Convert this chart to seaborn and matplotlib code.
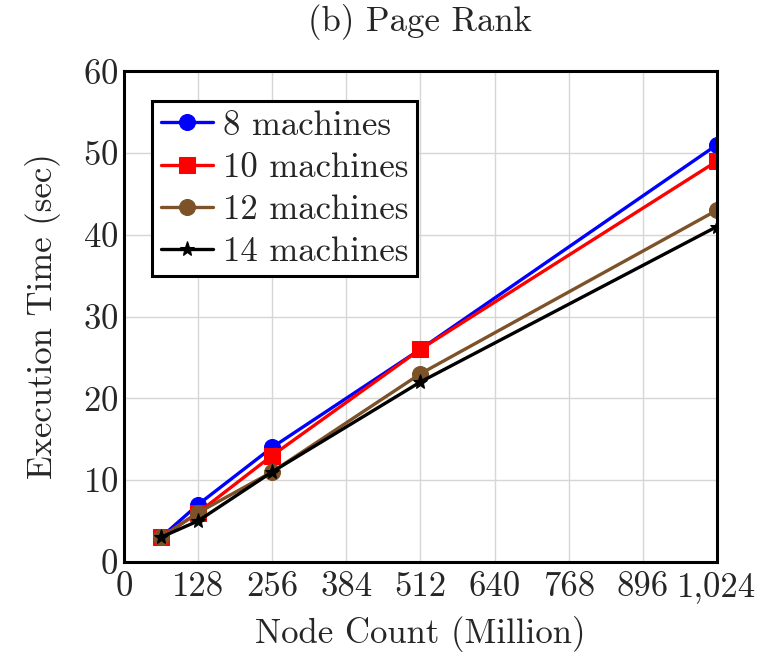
import pandas as pd
import matplotlib.pyplot as plt
import seaborn as sns

node_count = [64, 128, 256, 512, 1024]
machines = ['8 machines', '10 machines', '12 machines', '14 machines']
time_8 = [3, 7, 14, 26, 51]
time_10 = [3, 6, 13, 26, 49]
time_12 = [3, 6, 11, 23, 43]
time_14 = [3, 5, 11, 22, 41]

x_ticks = [0, 128, 256, 384, 512, 640, 768, 896, 1024]
x_tick_labels = ['0', '128', '256', '384', '512', '640', '768', '896', '1,024']
y_ticks = [0, 10, 20, 30, 40, 50, 60]


def montar_dados():
    series = [time_8, time_10, time_12, time_14]
    linhas = []
    for nome, valores in zip(machines, series):
        for x, y in zip(node_count, valores):
            linhas.append({'Nodes': x, 'Time': y, 'Machines': nome})
    return pd.DataFrame(linhas)


def plot_page_rank(df):
    sns.set_style('whitegrid')
    plt.rcParams['font.family'] = 'serif'
    plt.rcParams['font.serif'] = ['cmr10', 'DejaVu Serif']
    plt.rcParams['mathtext.fontset'] = 'cm'
    plt.rcParams['axes.formatter.use_mathtext'] = True

    fs = 25

    fig = plt.figure(figsize=(7.7, 6.54), dpi=100)
    ax = fig.add_axes([0.161, 0.141, 0.770, 0.750])

    cores = {'8 machines': '#0000ff', '10 machines': '#ff0000',
             '12 machines': '#7d5228', '14 machines': '#000000'}
    marcadores = {'8 machines': 'o', '10 machines': 's',
                  '12 machines': 'o', '14 machines': '*'}
    tamanhos = {'8 machines': 11.5, '10 machines': 11,
                '12 machines': 11.5, '14 machines': 11}

    for nome in machines:
        sub = df[df['Machines'] == nome]
        sns.lineplot(data=sub, x='Nodes', y='Time', ax=ax, color=cores[nome],
                     marker=marcadores[nome], markersize=tamanhos[nome],
                     markeredgecolor=cores[nome], linewidth=2.4, label=nome)

    ax.set_xlim(0, 1024)
    ax.set_ylim(0, 60)
    ax.set_xticks(x_ticks)
    ax.set_xticklabels(x_tick_labels)
    ax.set_yticks(y_ticks)
    ax.tick_params(labelsize=fs, length=0)
    ax.tick_params(axis='x', pad=7)
    ax.tick_params(axis='y', pad=4)
    ax.grid(True, color='#d6d6d6', linewidth=1.0)
    for s in ax.spines.values():
        s.set_color('black')
        s.set_linewidth(2.2)

    ax.set_xlabel('Node Count (Million)', fontsize=fs, labelpad=9)
    ax.set_ylabel('Execution Time (sec)', fontsize=fs, labelpad=16)
    ax.set_title('(b) Page Rank', fontsize=fs, pad=29)

    leg = ax.legend(loc='upper left', bbox_to_anchor=(0.03, 0.96), fontsize=fs,
                    frameon=True, fancybox=False, handlelength=1.5,
                    handletextpad=0.3, borderpad=0.25, labelspacing=0.3,
                    borderaxespad=0.3)
    leg.get_frame().set_edgecolor('black')
    leg.get_frame().set_linewidth(2.2)
    leg.get_frame().set_alpha(1)

    fig.savefig('out.png', dpi=100)


if __name__ == "__main__":
    df = montar_dados()
    plot_page_rank(df)
